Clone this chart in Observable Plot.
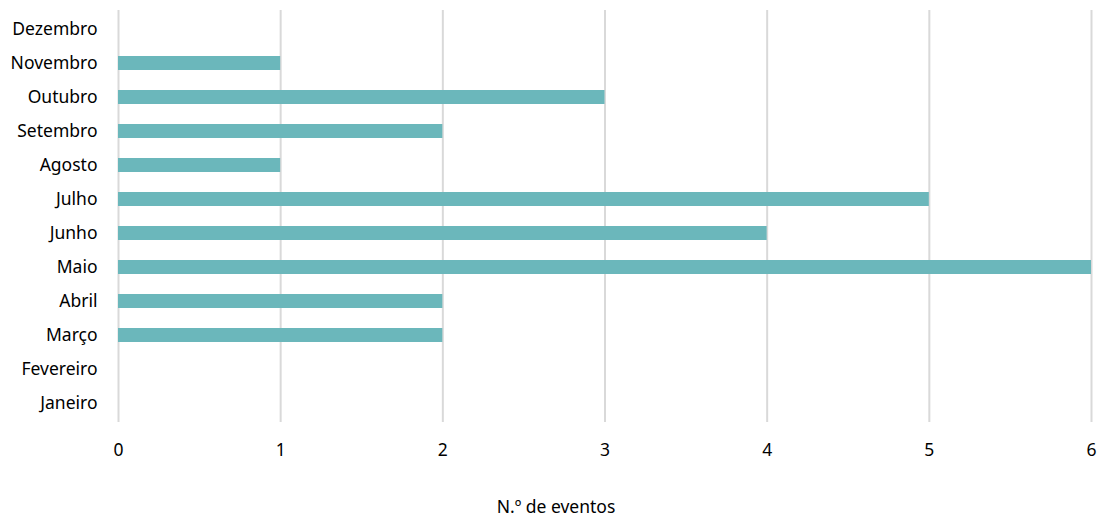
<!DOCTYPE html>
<html>
<head>
<meta charset="utf-8">
<script src="https://cdn.jsdelivr.net/npm/d3@7"></script>
<script src="https://cdn.jsdelivr.net/npm/@observablehq/plot@0.6"></script>
<style>
  html, body { margin: 0; padding: 0; background: #fff; }
  #chart { width: 1098px; }
  .caption { font-family: "Noto Sans", sans-serif; font-size: 17.5px; color: #000; text-align: center; width: 1098px; padding-left: 14px; box-sizing: border-box; margin-top: 20px; line-height: 22px; }
</style>
</head>
<body>
<div id="chart"></div>
<script>
const months = ["Janeiro","Fevereiro","Março","Abril","Maio","Junho","Julho","Agosto","Setembro","Outubro","Novembro","Dezembro"];
const events = [0, 0, 2, 2, 6, 4, 5, 1, 2, 3, 1, 0];
const xTicks = [0, 1, 2, 3, 4, 5, 6];
const xLabel = "N.º de eventos";

const data = months.map((m, i) => ({month: m, value: events[i]}));

const plot = Plot.plot({
  width: 1098,
  height: 475,
  marginLeft: 118,
  marginRight: 7,
  marginTop: 10,
  marginBottom: 53,
  style: {fontFamily: "Noto Sans, sans-serif", fontSize: "17.5px", color: "#000", background: "#fff"},
  x: {domain: [0, 6], ticks: xTicks, label: null},
  y: {domain: months.slice().reverse(), paddingInner: 0.59, paddingOuter: 0.295, label: null},
  marks: [
    Plot.gridX(xTicks, {stroke: "#d9d9d9", strokeOpacity: 1, strokeWidth: 2}),
    Plot.barX(data.filter(d => d.value > 0), {x1: 0, x2: "value", y: "month", fill: "#6bb7bb"}),
    Plot.axisX(xTicks, {tickSize: 0, tickPadding: 21, fill: "#000", fontSize: 17.5, tickFormat: d => String(d)}),
    Plot.axisY({tickSize: 0, tickPadding: 21, fill: "#000", fontSize: 17.5})
  ]
});
document.getElementById("chart").appendChild(plot);
const cap = document.createElement("div");
cap.className = "caption";
cap.textContent = xLabel;
document.body.appendChild(cap);
</script>
</body>
</html>
